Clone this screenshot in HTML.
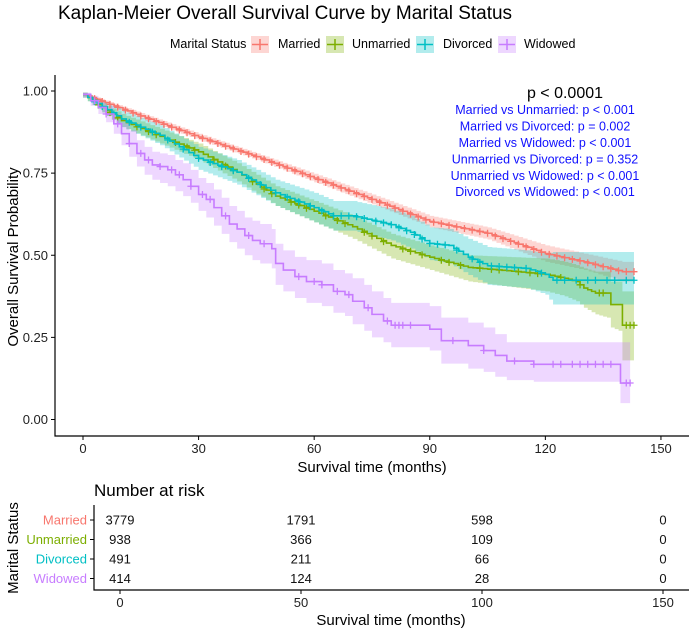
<!DOCTYPE html>
<html><head><meta charset="utf-8"><style>
body{margin:0;background:#fff}
svg{display:block;font-family:"Liberation Sans",sans-serif}
</style></head><body>
<svg id="c" width="690" height="629" viewBox="0 0 690 629">
<text x="58" y="19" font-size="19" fill="#000">Kaplan-Meier Overall Survival Curve by Marital Status</text>
<g id="legend" font-size="12.5">
<text x="170" y="48">Marital Status</text>
</g>
<g id="plot"></g>
<g id="stats" text-anchor="middle">
<text x="565" y="98" font-size="16" fill="#000">p &lt; 0.0001</text>
<text x="545" y="114" font-size="12.5" fill="#1010ff">Married vs Unmarried: p &lt; 0.001</text>
<text x="545" y="130.5" font-size="12.5" fill="#1010ff">Married vs Divorced: p = 0.002</text>
<text x="545" y="147" font-size="12.5" fill="#1010ff">Married vs Widowed: p &lt; 0.001</text>
<text x="545" y="163.5" font-size="12.5" fill="#1010ff">Unmarried vs Divorced: p = 0.352</text>
<text x="545" y="180" font-size="12.5" fill="#1010ff">Unmarried vs Widowed: p &lt; 0.001</text>
<text x="545" y="196" font-size="12.5" fill="#1010ff">Divorced vs Widowed: p &lt; 0.001</text>
</g>
<g id="table"></g>
</svg>
<script>
const groups=["Married","Unmarried","Divorced","Widowed"];
const colors=["#F8766D","#7CAE00","#00BFC4","#C77CFF"];
const xTicks=[0,30,60,90,120,150];
const yTicks=[0,0.25,0.5,0.75,1];
const yTickLabels=["0.00","0.25","0.50","0.75","1.00"];
const marriedT=[0,15,30,45,60,75,90,105,120,130,140,143];
const marriedS=[0.99,0.924,0.86,0.80,0.735,0.67,0.603,0.567,0.505,0.48,0.45,0.45];
const marriedLo=[0.985,0.915,0.85,0.79,0.722,0.655,0.585,0.548,0.48,0.455,0.42,0.42];
const marriedHi=[0.995,0.933,0.87,0.81,0.748,0.685,0.62,0.585,0.53,0.505,0.48,0.48];
const unmarriedT=[0,10,20,30,40,50,60,70,80,90,100,110,120,125,128,130,133,136,137,139,140,143];
const unmarriedS=[0.99,0.91,0.862,0.815,0.753,0.68,0.634,0.587,0.53,0.494,0.463,0.453,0.442,0.43,0.42,0.40,0.385,0.385,0.35,0.35,0.287,0.287];
const unmarriedLo=[0.98,0.89,0.84,0.79,0.725,0.65,0.6,0.55,0.49,0.455,0.42,0.405,0.39,0.375,0.36,0.34,0.32,0.31,0.28,0.27,0.18,0.18];
const unmarriedHi=[0.995,0.93,0.885,0.84,0.78,0.71,0.665,0.62,0.565,0.53,0.5,0.495,0.49,0.48,0.47,0.46,0.45,0.45,0.42,0.42,0.39,0.39];
const divorcedT=[0,10,20,30,40,50,60,65,70,80,85,90,95,100,105,115,120,122,143];
const divorcedS=[0.99,0.915,0.865,0.795,0.753,0.69,0.645,0.62,0.62,0.593,0.57,0.536,0.53,0.494,0.468,0.46,0.442,0.424,0.424];
const divorcedLo=[0.98,0.89,0.835,0.76,0.715,0.65,0.6,0.575,0.575,0.545,0.52,0.485,0.475,0.44,0.41,0.40,0.38,0.35,0.35];
const divorcedHi=[0.995,0.94,0.895,0.83,0.79,0.73,0.69,0.665,0.665,0.64,0.62,0.585,0.58,0.55,0.525,0.515,0.505,0.51,0.51];
const widowedT=[0,2,4,6,8,10,12,14,16,18,20,22,24,26,28,30,32,34,36,38,40,42,44,46,49,50,52,55,58,62,65,68,70,73,75,78,80,90,93,100,104,107,110,117,139.5,142];
const widowedS=[0.99,0.97,0.95,0.93,0.90,0.87,0.84,0.81,0.79,0.775,0.77,0.76,0.745,0.73,0.71,0.685,0.67,0.645,0.62,0.595,0.58,0.56,0.545,0.535,0.52,0.475,0.455,0.435,0.42,0.41,0.39,0.38,0.36,0.34,0.32,0.30,0.287,0.275,0.24,0.225,0.21,0.195,0.178,0.168,0.111,0.111];
const widowedLo=[0.98,0.955,0.93,0.905,0.87,0.835,0.80,0.77,0.745,0.73,0.72,0.71,0.695,0.68,0.66,0.635,0.615,0.59,0.565,0.54,0.52,0.5,0.485,0.475,0.46,0.41,0.39,0.37,0.355,0.345,0.325,0.315,0.29,0.27,0.25,0.235,0.22,0.21,0.17,0.155,0.145,0.13,0.12,0.115,0.05,0.05];
const widowedHi=[0.995,0.985,0.97,0.955,0.93,0.905,0.88,0.85,0.83,0.815,0.81,0.805,0.79,0.78,0.76,0.735,0.72,0.70,0.675,0.65,0.635,0.615,0.605,0.595,0.58,0.535,0.515,0.495,0.485,0.475,0.455,0.445,0.43,0.41,0.39,0.37,0.355,0.345,0.31,0.295,0.28,0.26,0.235,0.235,0.235,0.235];
const marriedCens=[3,5,7,9,11,13,15,17,19,21,23,25,27,29,31,33,35,37,39,41,43,45,47,49,51,53,55,57,59,61,63,65,67,69,71,73,75,77,79,81,83,85,87,89,91,93,95,97,99,101,103,105,107,109,111,113,115,117,119,121,123,125,127,129,131,133,135,137,139,141,143];
const unmarriedCens=[4,7,9,14,17,19,24,27,29,34,37,39,44,47,49,54,56,58,63,66,68,73,75,78,83,85,88,93,95,98,103,106,108,113,116,118,124,129,134,135,141,142,143];
const divorcedCens=[3,5,8,12,15,18,22,26,30,33,36,39,43,46,50,53,56,59,62,65,67,69,71,73,76,78,80,82,84,86,88,90,92,94,97,101,103,106,108,110,112,115,119,123,125,128,131,133,136,138,141,143];
const widowedCens=[3,6,9,12,15,17,20,23,25,28,31,33,37,43,47,56,60,62,66,69,74,79,81,82,83,85,96,104,112,117,122,124,127,129,131,133,135,137,141,142];
const riskTimes=[0,50,100,150];
const riskTickLabels=["0","50","100","150"];
const riskMarried=[3779,1791,598,0];
const riskUnmarried=[938,366,109,0];
const riskDivorced=[491,211,66,0];
const riskWidowed=[414,124,28,0];

const NS="http://www.w3.org/2000/svg";
function mk(tag,attrs,parent){const e=document.createElementNS(NS,tag);for(const k in attrs)e.setAttribute(k,attrs[k]);parent.appendChild(e);return e;}
const xS=m=>83+3.853*m;
const yS=v=>419.5-328.5*v;
const txS=m=>120+3.62*m;
const plot=document.getElementById('plot');
const series=[[marriedT,marriedS,marriedLo,marriedHi,marriedCens,false],[unmarriedT,unmarriedS,unmarriedLo,unmarriedHi,unmarriedCens,false],[divorcedT,divorcedS,divorcedLo,divorcedHi,divorcedCens,false],[widowedT,widowedS,widowedLo,widowedHi,widowedCens,true]];
// dense-event series are drawn as fine staircases (steps every ~1 month between read points)
function curvePts(T,S,step){let p=[];
  for(let i=0;i<T.length;i++){
    if(i>0){
      if(step||T[i]-T[i-1]<=1.5||S[i]===S[i-1]){p.push([xS(T[i]),yS(S[i-1])]);}
      else{const n=Math.max(2,Math.round((T[i]-T[i-1])/1.2));
        for(let k=1;k<n;k++){const t=T[i-1]+(T[i]-T[i-1])*k/n,v=S[i-1]+(S[i]-S[i-1])*k/n,vp=S[i-1]+(S[i]-S[i-1])*(k-1)/n;p.push([xS(t),yS(vp)]);p.push([xS(t),yS(v)]);}
        p.push([xS(T[i]),yS(S[i-1]+(S[i]-S[i-1])*(n-1)/n)]);}
    }
    p.push([xS(T[i]),yS(S[i])]);}
  return p;}
function survAt(T,S,t,step){for(let i=1;i<T.length;i++){if(t<T[i]){return step?S[i-1]:S[i-1]+(S[i]-S[i-1])*(t-T[i-1])/(T[i]-T[i-1]);}}return S[S.length-1];}
series.forEach((s,g)=>{
  const up=curvePts(s[0],s[3],s[5]),lo=curvePts(s[0],s[2],s[5]).reverse();
  const b=mk('polygon',{points:up.concat(lo).map(p=>p.join(',')).join(' '),fill:colors[g],'fill-opacity':0.3},plot);
  
  
});
series.forEach((s,g)=>{
  const l=mk('polyline',{points:curvePts(s[0],s[1],s[5]).map(p=>p.join(',')).join(' '),fill:'none',stroke:colors[g],'stroke-width':1.6},plot);
  
  
  s[4].forEach(t=>{
    const x=xS(t),y=yS(survAt(s[0],s[1],t,s[5]));
    const c=mk('path',{d:`M${x-3.5},${y}H${x+3.5}M${x},${y-3.5}V${y+3.5}`,stroke:colors[g],'stroke-width':1.3},plot);
    
    
  });
});
let ax=mk('path',{d:'M55,75V436H689',fill:'none',stroke:'#000','stroke-width':1.2},plot);


yTicks.forEach((v,i)=>{
  mk('line',{x1:51,x2:55,y1:yS(v),y2:yS(v),stroke:'#000'},plot);
  const t=mk('text',{x:48,y:yS(v)+4.5,'text-anchor':'end','font-size':13,fill:'#222'},plot);t.textContent=yTickLabels[i];
  
  
});
xTicks.forEach(v=>{
  mk('line',{x1:xS(v),x2:xS(v),y1:436,y2:440,stroke:'#000'},plot);
  const t=mk('text',{x:xS(v),y:453,'text-anchor':'middle','font-size':13,fill:'#222'},plot);t.textContent=v;
  
  
});
let xt=mk('text',{x:372,y:472,'text-anchor':'middle','font-size':15},plot);xt.textContent='Survival time (months)';


let yt=mk('text',{x:0,y:0,'text-anchor':'middle','font-size':15,transform:'translate(18,257) rotate(-90)'},plot);yt.textContent='Overall Survival Probability';


const lg=document.getElementById('legend');
const lgKey=[251,326,416,498],lgTxt=[278,352,443,524];
groups.forEach((g,i)=>{
  const r=mk('rect',{x:lgKey[i],y:36,width:18,height:17,fill:colors[i],'fill-opacity':0.3},lg);
  
  
  mk('path',{d:`M${lgKey[i]+1},44.5H${lgKey[i]+17}M${lgKey[i]+9},39V50`,stroke:colors[i],'stroke-width':1.5},lg);
  const t=mk('text',{x:lgTxt[i],y:48},lg);t.textContent=g;
  
  
});
const tb=document.getElementById('table');
let tt=mk('text',{x:94,y:496,'font-size':17},tb);tt.textContent='Number at risk';


let ta=mk('path',{d:'M94,505V590H689',fill:'none',stroke:'#000','stroke-width':1.2},tb);


const risks=[riskMarried,riskUnmarried,riskDivorced,riskWidowed];
const rowY=[520,539.5,559,578.5];
groups.forEach((g,i)=>{
  mk('line',{x1:90,x2:94,y1:rowY[i],y2:rowY[i],stroke:'#000'},tb);
  const l=mk('text',{x:87,y:rowY[i]+4.5,'text-anchor':'end','font-size':13,fill:colors[i]},tb);l.textContent=g;
  
  
  risks[i].forEach((n,j)=>{
    const t=mk('text',{x:txS(riskTimes[j]),y:rowY[i]+4.5,'text-anchor':'middle','font-size':13,fill:'#111'},tb);t.textContent=n;
    
    
  });
});
riskTimes.forEach((v,j)=>{
  mk('line',{x1:txS(v),x2:txS(v),y1:590,y2:594,stroke:'#000'},tb);
  const t=mk('text',{x:txS(v),y:607,'text-anchor':'middle','font-size':13,fill:'#222'},tb);t.textContent=riskTickLabels[j];
  
  
});
let rx=mk('text',{x:391,y:625,'text-anchor':'middle','font-size':15},tb);rx.textContent='Survival time (months)';


let ry=mk('text',{x:0,y:0,'text-anchor':'middle','font-size':15,transform:'translate(18,548) rotate(-90)'},tb);ry.textContent='Marital Status';


</script>
</body></html>
